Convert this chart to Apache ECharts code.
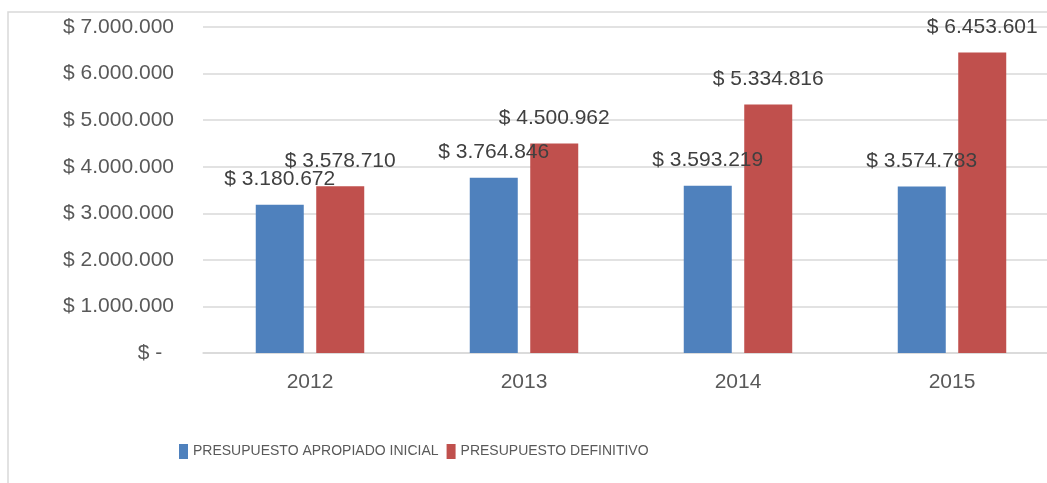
<!DOCTYPE html>
<html>
<head>
<meta charset="utf-8">
<script src="https://cdn.jsdelivr.net/npm/echarts@6/dist/echarts.min.js"></script>
<style>
  html, body { margin: 0; padding: 0; background: #fff; }
  #chart { width: 1047px; height: 483px; }
</style>
</head>
<body>
<div id="chart"></div>
<script>
  // data
  const years = ['2012', '2013', '2014', '2015']
  const inicial = [3180672, 3764846, 3593219, 3574783]
  const definitivo = [3578710, 4500962, 5334816, 6453601]
  const names = ['PRESUPUESTO APROPIADO INICIAL', 'PRESUPUESTO DEFINITIVO']
  const colors = ['#4F81BD', '#C0504D']

  const font = 'Liberation Sans, Arial, sans-serif'

  function money(v) {
    if (v === 0) return '$ -  '
    return '$ ' + String(v).replace(/\B(?=(\d{3})+(?!\d))/g, '.')
  }

  function barSeries(name, data, color) {
    return {
      name: name,
      type: 'bar',
      data: data,
      barWidth: 48,
      barGap: '26%',
      itemStyle: { color: color },
      label: {
        show: true,
        position: 'top',
        distance: 15,
        color: '#404040',
        fontFamily: font,
        fontSize: 21,
        formatter: (p) => money(p.value),
      },
    }
  }

  const chart = echarts.init(document.getElementById('chart'))
  chart.setOption({
    animation: false,
    color: colors,
    grid: {
      left: 203,
      top: 27,
      width: 856,
      bottom: 130,
      outerBoundsMode: 'none',
    },
    graphic: [
      {
        type: 'rect',
        silent: true,
        z: -10,
        shape: { x: 8, y: 12, width: 1200, height: 600 },
        style: { fill: 'none', stroke: '#d9d9d9', lineWidth: 1.5 },
      },
    ],
    legend: {
      left: 179,
      top: 444,
      padding: 0,
      itemWidth: 9,
      itemHeight: 15,
      itemGap: 8,
      icon: 'rect',
      textStyle: {
        color: '#595959',
        fontFamily: font,
        fontSize: 14,
      },
      data: names,
    },
    xAxis: {
      type: 'category',
      data: years,
      axisLine: { lineStyle: { color: '#d9d9d9', width: 1.5 } },
      axisTick: { show: false },
      axisLabel: {
        color: '#595959',
        fontFamily: font,
        fontSize: 21,
        margin: 19,
      },
    },
    yAxis: {
      type: 'value',
      min: 0,
      max: 7000000,
      interval: 1000000,
      axisLine: { show: false },
      axisTick: { show: false },
      splitLine: { lineStyle: { color: '#d9d9d9', width: 1.5 } },
      axisLabel: {
        color: '#595959',
        fontFamily: font,
        fontSize: 21,
        margin: 29,
        formatter: money,
      },
    },
    series: [
      barSeries(names[0], inicial, colors[0]),
      barSeries(names[1], definitivo, colors[1]),
    ],
  })
</script>
</body>
</html>
